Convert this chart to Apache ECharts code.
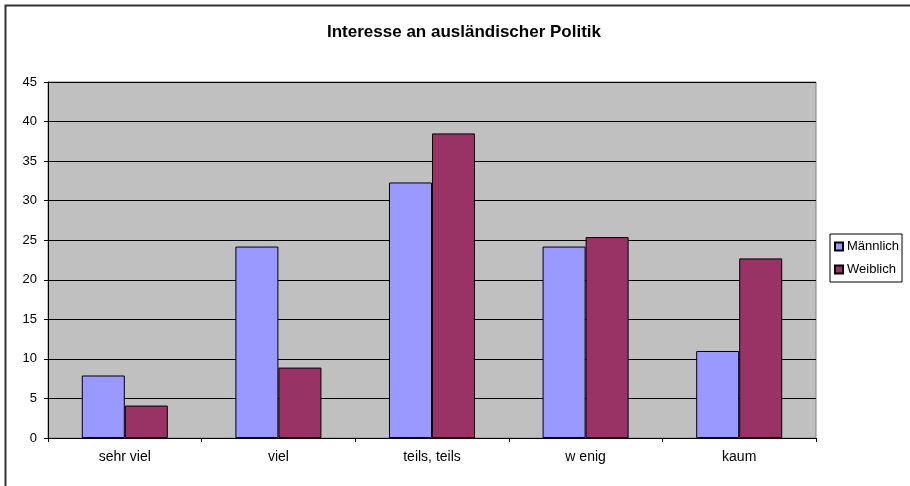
<!DOCTYPE html>
<html>
<head>
<meta charset="utf-8">
<script src="https://cdn.jsdelivr.net/npm/echarts@6/dist/echarts.min.js"></script>
<style>
html,body{margin:0;padding:0;background:#fff;}
#c{width:910px;height:486px;}
</style>
</head>
<body>
<div id="c"></div>
<script>
var categories = ['sehr viel', 'viel', 'teils, teils', 'w enig', 'kaum'];
var maennlich = [7.9, 24.2, 32.3, 24.2, 11.0];
var weiblich = [4.1, 8.9, 38.5, 25.4, 22.7];
var seriesNames = ['Männlich', 'Weiblich'];
var chart = echarts.init(document.getElementById('c'), null, {renderer: 'canvas'});
var font = 'Arial, "Liberation Sans", sans-serif';
chart.setOption({
  animation: false,
  backgroundColor: '#ffffff',
  title: {
    text: 'Interesse an ausländischer Politik',
    left: 459, top: 19, textAlign: 'center',
    textStyle: {fontFamily: font, fontSize: 17, fontWeight: 'bold', color: '#000'}
  },
  graphic: [{
    type: 'rect', shape: {x: 5.5, y: 5.5, width: 1000, height: 1000},
    style: {fill: 'none', stroke: '#333', lineWidth: 2}, z: 100
  }],
  legend: {
    orient: 'vertical', left: 830, top: 234,
    padding: [6, 3, 6, 4],
    itemWidth: 8, itemHeight: 8, itemGap: 10,
    borderColor: '#000', borderWidth: 1,
    icon: 'rect',
    textStyle: {fontFamily: font, fontSize: 13, color: '#000', padding: [0, 0, 0, -1]},
    data: seriesNames
  },
  grid: {
    left: 48, top: 82, width: 768, height: 356,
    show: true, backgroundColor: '#C0C0C0', borderColor: '#808080', borderWidth: 1
  },
  xAxis: {
    type: 'category', data: categories,
    axisLine: {lineStyle: {color: '#000', width: 1}},
    axisTick: {show: true, length: 4, lineStyle: {color: '#000'}},
    axisLabel: {fontFamily: font, fontSize: 14, color: '#000', margin: 12},
    splitLine: {show: false}
  },
  yAxis: {
    type: 'value', min: 0, max: 45, interval: 5,
    axisLine: {show: true, lineStyle: {color: '#000', width: 1}},
    axisTick: {show: true, length: 4, lineStyle: {color: '#000'}},
    axisLabel: {fontFamily: font, fontSize: 13, color: '#000', margin: 11},
    splitLine: {show: true, lineStyle: {color: '#000', width: 1}}
  },
  series: [
    {
      name: seriesNames[0], type: 'bar', data: maennlich,
      barGap: '0%', barCategoryGap: '44%',
      itemStyle: {color: '#9999FF', borderColor: '#000', borderWidth: 1}
    },
    {
      name: seriesNames[1], type: 'bar', data: weiblich,
      barGap: '0%', barCategoryGap: '44%',
      itemStyle: {color: '#993366', borderColor: '#000', borderWidth: 1}
    }
  ]
});
</script>
</body>
</html>
